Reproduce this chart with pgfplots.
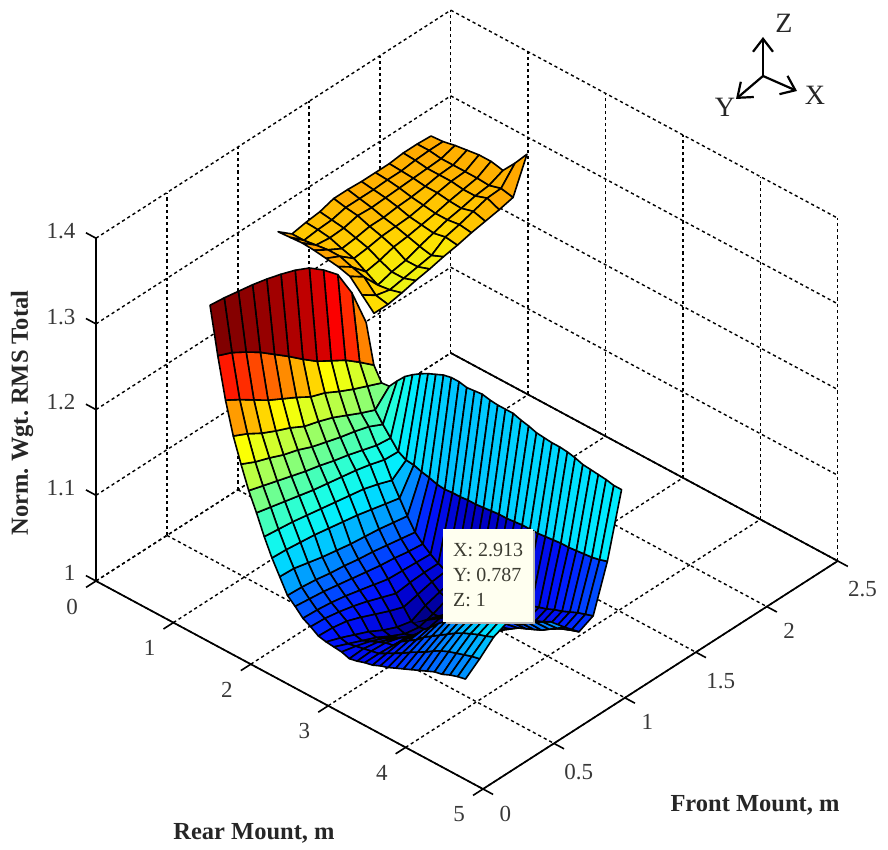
\documentclass[border=0pt]{standalone}
\usepackage{fontspec}
\setmainfont{Liberation Serif}
\usepackage{pgfplots}
\pgfplotsset{compat=1.18}
\usetikzlibrary{arrows.meta}
\definecolor{tipbg}{RGB}{255,255,240}
\definecolor{tiptxt}{RGB}{60,60,50}
\pgfplotsset{colormap={myjet}{rgb255=(0,0,128) rgb255=(0,0,200) rgb255=(0,20,255) rgb255=(0,95,255) rgb255=(0,165,255) rgb255=(0,235,255) rgb255=(30,255,225) rgb255=(90,255,165) rgb255=(150,255,105) rgb255=(205,255,50) rgb255=(255,255,0) rgb255=(255,191,0) rgb255=(255,128,0) rgb255=(255,64,0) rgb255=(255,0,0) rgb255=(191,0,0) rgb255=(128,0,0)}}
\pgfplotsset{colormap={upjet}{rgb255=(0,0,128) rgb255=(0,0,200) rgb255=(0,20,255) rgb255=(0,95,255) rgb255=(0,165,255) rgb255=(0,235,255) rgb255=(30,255,225) rgb255=(90,255,165) rgb255=(150,255,105) rgb255=(190,255,65) rgb255=(225,255,30) rgb255=(255,225,0) rgb255=(255,165,0) rgb255=(255,110,0) rgb255=(255,40,0) rgb255=(191,0,0) rgb255=(128,0,0)}}
\begin{document}
\frenchspacing
\begin{tikzpicture}[x=1pt,y=1pt]
\useasboundingbox (0,0) rectangle (888,850);
\begin{axis}[
  at={(96pt,61pt)},anchor=south west,
  x={(77.4pt,-41.6pt)},y={(141.9pt,91.2pt)},z={(0pt,857pt)},
  xmin=0,xmax=5,ymin=0,ymax=2.5,zmin=1,zmax=1.4,
  xtick={0,1,2,3,4,5},ytick={0,0.5,1,1.5,2,2.5},ztick={1,1.1,1.2,1.3,1.4},
  grid=major,
  grid style={black,line width=1.4pt,dash pattern=on 3.2pt off 3pt},
  axis line style={draw=none},
  tick style={draw=none},
  clip=false,
  tick label style={font=\fontsize{23}{23}\selectfont,text=black!78,/pgf/number format/assume math mode=true},
  xticklabel style={xshift=-17pt,yshift=-13pt},
  yticklabel style={xshift=15pt,yshift=-12pt},
  zticklabel style={xshift=-17pt,yshift=8pt},
  colormap name=myjet,point meta min=0.999,point meta max=1.362,
  every axis plot post/.append style={line join=round},
]
\addplot3[black,line width=1.7pt,forget plot] coordinates {(0,0,1)(5,0,1)(5,2.5,1)(0,2.5,1)};
\addplot3[black,line width=1.7pt,forget plot] coordinates {(0,0,1)(0,0,1.4)};
\addplot3[black,line width=1.6pt,forget plot] coordinates {(0,0,1)(0,-0.07,1)};
\addplot3[black,line width=1.6pt,forget plot] coordinates {(1,0,1)(1,-0.07,1)};
\addplot3[black,line width=1.6pt,forget plot] coordinates {(2,0,1)(2,-0.07,1)};
\addplot3[black,line width=1.6pt,forget plot] coordinates {(3,0,1)(3,-0.07,1)};
\addplot3[black,line width=1.6pt,forget plot] coordinates {(4,0,1)(4,-0.07,1)};
\addplot3[black,line width=1.6pt,forget plot] coordinates {(5,0,1)(5,-0.07,1)};
\addplot3[black,line width=1.6pt,forget plot] coordinates {(5,0,1)(5.13,0,1)};
\addplot3[black,line width=1.6pt,forget plot] coordinates {(5,0.5,1)(5.13,0.5,1)};
\addplot3[black,line width=1.6pt,forget plot] coordinates {(5,1,1)(5.13,1,1)};
\addplot3[black,line width=1.6pt,forget plot] coordinates {(5,1.5,1)(5.13,1.5,1)};
\addplot3[black,line width=1.6pt,forget plot] coordinates {(5,2,1)(5.13,2,1)};
\addplot3[black,line width=1.6pt,forget plot] coordinates {(5,2.5,1)(5.13,2.5,1)};
\addplot3[black,line width=1.6pt,forget plot] coordinates {(0,0,1)(-0.13,0,1)};
\addplot3[black,line width=1.6pt,forget plot] coordinates {(0,0,1.1)(-0.13,0,1.1)};
\addplot3[black,line width=1.6pt,forget plot] coordinates {(0,0,1.2)(-0.13,0,1.2)};
\addplot3[black,line width=1.6pt,forget plot] coordinates {(0,0,1.3)(-0.13,0,1.3)};
\addplot3[black,line width=1.6pt,forget plot] coordinates {(0,0,1.4)(-0.13,0,1.4)};
% upper sheet
\addplot3[surf,colormap name=upjet,shader=flat corner,draw=black,line width=1.6pt,z buffer=sort,mesh/ordering=y varies,mesh/rows=12,mesh/cols=9] coordinates {
(0,1.283,1.271)(0,1.381,1.258)(0,1.479,1.261)(0,1.577,1.263)(0,1.675,1.268)(0,1.773,1.268)(0,1.871,1.267)(0,1.969,1.267)(0,2.067,1.267)(0,2.165,1.269)(0,2.263,1.269)(0,2.361,1.268)
(0.155,1.283,1.272)(0.155,1.381,1.258)(0.155,1.479,1.260)(0.155,1.577,1.261)(0.155,1.675,1.265)(0.155,1.773,1.265)(0.155,1.871,1.265)(0.155,1.969,1.266)(0.155,2.067,1.266)(0.155,2.165,1.268)(0.155,2.263,1.269)(0.155,2.361,1.269)
(0.31,1.283,1.273)(0.31,1.381,1.260)(0.31,1.479,1.258)(0.31,1.577,1.259)(0.31,1.675,1.263)(0.31,1.773,1.262)(0.31,1.871,1.263)(0.31,1.969,1.264)(0.31,2.067,1.265)(0.31,2.165,1.266)(0.31,2.263,1.267)(0.31,2.361,1.272)
(0.465,1.283,1.272)(0.465,1.381,1.262)(0.465,1.479,1.253)(0.465,1.577,1.255)(0.465,1.675,1.258)(0.465,1.773,1.258)(0.465,1.871,1.260)(0.465,1.969,1.261)(0.465,2.067,1.263)(0.465,2.165,1.266)(0.465,2.263,1.267)(0.465,2.361,1.274)
(0.62,1.283,1.270)(0.62,1.381,1.262)(0.62,1.479,1.249)(0.62,1.577,1.251)(0.62,1.675,1.254)(0.62,1.773,1.255)(0.62,1.871,1.256)(0.62,1.969,1.259)(0.62,2.067,1.263)(0.62,2.165,1.266)(0.62,2.263,1.267)(0.62,2.361,1.276)
(0.775,1.283,1.268)(0.775,1.381,1.257)(0.775,1.479,1.241)(0.775,1.577,1.244)(0.775,1.675,1.249)(0.775,1.773,1.251)(0.775,1.871,1.254)(0.775,1.969,1.257)(0.775,2.067,1.261)(0.775,2.165,1.264)(0.775,2.263,1.267)(0.775,2.361,1.276)
(0.93,1.283,1.264)(0.93,1.381,1.253)(0.93,1.479,1.233)(0.93,1.577,1.238)(0.93,1.675,1.241)(0.93,1.773,1.247)(0.93,1.871,1.252)(0.93,1.969,1.257)(0.93,2.067,1.260)(0.93,2.165,1.264)(0.93,2.263,1.266)(0.93,2.361,1.273)
(1.085,1.283,1.250)(1.085,1.381,1.239)(1.085,1.479,1.235)(1.085,1.577,1.238)(1.085,1.675,1.241)(1.085,1.773,1.244)(1.085,1.871,1.255)(1.085,1.969,1.259)(1.085,2.067,1.264)(1.085,2.165,1.269)(1.085,2.263,1.270)(1.085,2.361,1.289)
(1.24,1.283,1.236)(1.24,1.381,1.236)(1.24,1.479,1.239)(1.24,1.577,1.243)(1.24,1.675,1.246)(1.24,1.773,1.250)(1.24,1.871,1.253)(1.24,1.969,1.257)(1.24,2.067,1.260)(1.24,2.165,1.263)(1.24,2.263,1.267)(1.24,2.361,1.307)
};
% main sheet
\addplot3[surf,shader=flat corner,draw=black,line width=1.6pt,z buffer=sort,mesh/ordering=y varies,mesh/rows=12,mesh/cols=34] coordinates {
(1.18,0.16,1.362)(1.18,0.26,1.360)(1.18,0.36,1.357)(1.18,0.46,1.354)(1.18,0.56,1.350)(1.18,0.66,1.345)(1.18,0.76,1.339)(1.18,0.86,1.331)(1.18,0.96,1.318)(1.18,1.06,1.302)(1.18,1.16,1.270)(1.18,1.26,1.225)
(1.28,0.16,1.308)(1.28,0.26,1.301)(1.28,0.36,1.291)(1.28,0.46,1.280)(1.28,0.56,1.267)(1.28,0.66,1.254)(1.28,0.76,1.240)(1.28,0.86,1.227)(1.28,0.96,1.217)(1.28,1.06,1.207)(1.28,1.16,1.194)(1.28,1.26,1.180)
(1.38,0.16,1.261)(1.38,0.26,1.251)(1.38,0.36,1.240)(1.38,0.46,1.229)(1.38,0.56,1.220)(1.38,0.66,1.211)(1.38,0.76,1.201)(1.38,0.86,1.195)(1.38,0.96,1.186)(1.38,1.06,1.178)(1.38,1.16,1.171)(1.38,1.26,1.164)
(1.48,0.16,1.224)(1.48,0.26,1.216)(1.48,0.36,1.206)(1.48,0.46,1.198)(1.48,0.56,1.191)(1.48,0.66,1.182)(1.48,0.76,1.177)(1.48,0.86,1.171)(1.48,0.96,1.163)(1.48,1.06,1.155)(1.48,1.16,1.148)(1.48,1.26,1.165)
(1.58,0.16,1.196)(1.58,0.26,1.188)(1.58,0.36,1.182)(1.58,0.46,1.175)(1.58,0.56,1.170)(1.58,0.66,1.163)(1.58,0.76,1.158)(1.58,0.86,1.153)(1.58,0.96,1.149)(1.58,1.06,1.144)(1.58,1.16,1.136)(1.58,1.26,1.176)
(1.68,0.16,1.170)(1.68,0.26,1.165)(1.68,0.36,1.160)(1.68,0.46,1.155)(1.68,0.56,1.150)(1.68,0.66,1.146)(1.68,0.76,1.141)(1.68,0.86,1.137)(1.68,0.96,1.132)(1.68,1.06,1.127)(1.68,1.16,1.125)(1.68,1.26,1.186)
(1.78,0.16,1.149)(1.78,0.26,1.145)(1.78,0.36,1.141)(1.78,0.46,1.137)(1.78,0.56,1.133)(1.78,0.66,1.130)(1.78,0.76,1.127)(1.78,0.86,1.124)(1.78,0.96,1.120)(1.78,1.06,1.115)(1.78,1.16,1.114)(1.78,1.26,1.193)
(1.88,0.16,1.126)(1.88,0.26,1.124)(1.88,0.36,1.122)(1.88,0.46,1.119)(1.88,0.56,1.116)(1.88,0.66,1.113)(1.88,0.76,1.110)(1.88,0.86,1.107)(1.88,0.96,1.102)(1.88,1.06,1.096)(1.88,1.16,1.109)(1.88,1.26,1.199)
(1.98,0.16,1.106)(1.98,0.26,1.105)(1.98,0.36,1.103)(1.98,0.46,1.101)(1.98,0.56,1.098)(1.98,0.66,1.095)(1.98,0.76,1.092)(1.98,0.86,1.088)(1.98,0.96,1.084)(1.98,1.06,1.080)(1.98,1.16,1.108)(1.98,1.26,1.204)
(2.08,0.16,1.089)(2.08,0.26,1.088)(2.08,0.36,1.084)(2.08,0.46,1.080)(2.08,0.56,1.077)(2.08,0.66,1.074)(2.08,0.76,1.072)(2.08,0.86,1.070)(2.08,0.96,1.067)(2.08,1.06,1.064)(2.08,1.16,1.105)(2.08,1.26,1.208)
(2.18,0.16,1.072)(2.18,0.26,1.071)(2.18,0.36,1.069)(2.18,0.46,1.066)(2.18,0.56,1.064)(2.18,0.66,1.061)(2.18,0.76,1.059)(2.18,0.86,1.056)(2.18,0.96,1.053)(2.18,1.06,1.050)(2.18,1.16,1.103)(2.18,1.26,1.212)
(2.28,0.16,1.064)(2.28,0.26,1.062)(2.28,0.36,1.060)(2.28,0.46,1.057)(2.28,0.56,1.054)(2.28,0.66,1.051)(2.28,0.76,1.048)(2.28,0.86,1.046)(2.28,0.96,1.043)(2.28,1.06,1.041)(2.28,1.16,1.100)(2.28,1.26,1.214)
(2.38,0.16,1.055)(2.38,0.26,1.054)(2.38,0.36,1.052)(2.38,0.46,1.049)(2.38,0.56,1.045)(2.38,0.66,1.041)(2.38,0.76,1.037)(2.38,0.86,1.036)(2.38,0.96,1.035)(2.38,1.06,1.034)(2.38,1.16,1.099)(2.38,1.26,1.214)
(2.48,0.16,1.050)(2.48,0.26,1.049)(2.48,0.36,1.046)(2.48,0.46,1.042)(2.48,0.56,1.037)(2.48,0.66,1.031)(2.48,0.76,1.025)(2.48,0.86,1.027)(2.48,0.96,1.028)(2.48,1.06,1.028)(2.48,1.16,1.100)(2.48,1.26,1.212)
(2.58,0.16,1.044)(2.58,0.26,1.043)(2.58,0.36,1.040)(2.58,0.46,1.034)(2.58,0.56,1.027)(2.58,0.66,1.020)(2.58,0.76,1.014)(2.58,0.86,1.018)(2.58,0.96,1.022)(2.58,1.06,1.024)(2.58,1.16,1.100)(2.58,1.26,1.213)
(2.68,0.16,1.042)(2.68,0.26,1.036)(2.68,0.36,1.029)(2.68,0.46,1.022)(2.68,0.56,1.013)(2.68,0.66,1.006)(2.68,0.76,1.002)(2.68,0.86,1.010)(2.68,0.96,1.015)(2.68,1.06,1.020)(2.68,1.16,1.101)(2.68,1.26,1.214)
(2.78,0.16,1.041)(2.78,0.26,1.034)(2.78,0.36,1.027)(2.78,0.46,1.020)(2.78,0.56,1.011)(2.78,0.66,1.003)(2.78,0.76,1.000)(2.78,0.86,1.005)(2.78,0.96,1.012)(2.78,1.06,1.020)(2.78,1.16,1.101)(2.78,1.26,1.212)
(2.88,0.16,1.040)(2.88,0.26,1.036)(2.88,0.36,1.031)(2.88,0.46,1.024)(2.88,0.56,1.014)(2.88,0.66,1.006)(2.88,0.76,1.002)(2.88,0.86,1.006)(2.88,0.96,1.012)(2.88,1.06,1.020)(2.88,1.16,1.102)(2.88,1.26,1.211)
(2.98,0.16,1.037)(2.98,0.26,1.038)(2.98,0.36,1.035)(2.98,0.46,1.028)(2.98,0.56,1.018)(2.98,0.66,1.010)(2.98,0.76,1.004)(2.98,0.86,1.008)(2.98,0.96,1.013)(2.98,1.06,1.022)(2.98,1.16,1.103)(2.98,1.26,1.211)
(3.08,0.16,1.039)(3.08,0.26,1.040)(3.08,0.36,1.039)(3.08,0.46,1.034)(3.08,0.56,1.024)(3.08,0.66,1.014)(3.08,0.76,1.006)(3.08,0.86,1.010)(3.08,0.96,1.014)(3.08,1.06,1.023)(3.08,1.16,1.104)(3.08,1.26,1.211)
(3.18,0.16,1.042)(3.18,0.26,1.042)(3.18,0.36,1.041)(3.18,0.46,1.040)(3.18,0.56,1.030)(3.18,0.66,1.018)(3.18,0.76,1.008)(3.18,0.86,1.012)(3.18,0.96,1.015)(3.18,1.06,1.025)(3.18,1.16,1.104)(3.18,1.26,1.208)
(3.28,0.16,1.044)(3.28,0.26,1.047)(3.28,0.36,1.050)(3.28,0.46,1.047)(3.28,0.56,1.036)(3.28,0.66,1.023)(3.28,0.76,1.011)(3.28,0.86,1.013)(3.28,0.96,1.018)(3.28,1.06,1.027)(3.28,1.16,1.105)(3.28,1.26,1.206)
(3.38,0.16,1.048)(3.38,0.26,1.052)(3.38,0.36,1.056)(3.38,0.46,1.058)(3.38,0.56,1.044)(3.38,0.66,1.029)(3.38,0.76,1.014)(3.38,0.86,1.015)(3.38,0.96,1.021)(3.38,1.06,1.029)(3.38,1.16,1.106)(3.38,1.26,1.203)
(3.48,0.16,1.051)(3.48,0.26,1.057)(3.48,0.36,1.062)(3.48,0.46,1.066)(3.48,0.56,1.054)(3.48,0.66,1.038)(3.48,0.76,1.020)(3.48,0.86,1.018)(3.48,0.96,1.024)(3.48,1.06,1.032)(3.48,1.16,1.106)(3.48,1.26,1.202)
(3.58,0.16,1.055)(3.58,0.26,1.063)(3.58,0.36,1.070)(3.58,0.46,1.075)(3.58,0.56,1.064)(3.58,0.66,1.048)(3.58,0.76,1.030)(3.58,0.86,1.024)(3.58,0.96,1.027)(3.58,1.06,1.034)(3.58,1.16,1.106)(3.58,1.26,1.201)
(3.68,0.16,1.059)(3.68,0.26,1.068)(3.68,0.36,1.076)(3.68,0.46,1.083)(3.68,0.56,1.074)(3.68,0.66,1.058)(3.68,0.76,1.040)(3.68,0.86,1.030)(3.68,0.96,1.030)(3.68,1.06,1.037)(3.68,1.16,1.107)(3.68,1.26,1.201)
(3.78,0.16,1.063)(3.78,0.26,1.073)(3.78,0.36,1.082)(3.78,0.46,1.090)(3.78,0.56,1.082)(3.78,0.66,1.068)(3.78,0.76,1.050)(3.78,0.86,1.036)(3.78,0.96,1.033)(3.78,1.06,1.040)(3.78,1.16,1.108)(3.78,1.26,1.200)
(3.88,0.16,1.067)(3.88,0.26,1.079)(3.88,0.36,1.088)(3.88,0.46,1.095)(3.88,0.56,1.088)(3.88,0.66,1.076)(3.88,0.76,1.058)(3.88,0.86,1.042)(3.88,0.96,1.036)(3.88,1.06,1.043)(3.88,1.16,1.109)(3.88,1.26,1.198)
(3.98,0.16,1.071)(3.98,0.26,1.084)(3.98,0.36,1.094)(3.98,0.46,1.100)(3.98,0.56,1.093)(3.98,0.66,1.082)(3.98,0.76,1.064)(3.98,0.86,1.046)(3.98,0.96,1.040)(3.98,1.06,1.047)(3.98,1.16,1.109)(3.98,1.26,1.195)
(4.08,0.16,1.075)(4.08,0.26,1.088)(4.08,0.36,1.099)(4.08,0.46,1.105)(4.08,0.56,1.097)(4.08,0.66,1.087)(4.08,0.76,1.069)(4.08,0.86,1.050)(4.08,0.96,1.043)(4.08,1.06,1.050)(4.08,1.16,1.110)(4.08,1.26,1.194)
(4.18,0.16,1.077)(4.18,0.26,1.091)(4.18,0.36,1.103)(4.18,0.46,1.110)(4.18,0.56,1.100)(4.18,0.66,1.091)(4.18,0.76,1.074)(4.18,0.86,1.054)(4.18,0.96,1.047)(4.18,1.06,1.054)(4.18,1.16,1.111)(4.18,1.26,1.193)
(4.28,0.16,1.081)(4.28,0.26,1.094)(4.28,0.36,1.107)(4.28,0.46,1.114)(4.28,0.56,1.103)(4.28,0.66,1.094)(4.28,0.76,1.079)(4.28,0.86,1.060)(4.28,0.96,1.050)(4.28,1.06,1.058)(4.28,1.16,1.112)(4.28,1.26,1.192)
(4.38,0.16,1.084)(4.38,0.26,1.097)(4.38,0.36,1.110)(4.38,0.46,1.118)(4.38,0.56,1.105)(4.38,0.66,1.097)(4.38,0.76,1.084)(4.38,0.86,1.066)(4.38,0.96,1.053)(4.38,1.06,1.061)(4.38,1.16,1.114)(4.38,1.26,1.190)
(4.48,0.16,1.086)(4.48,0.26,1.099)(4.48,0.36,1.114)(4.48,0.46,1.121)(4.48,0.56,1.107)(4.48,0.66,1.100)(4.48,0.76,1.089)(4.48,0.86,1.072)(4.48,0.96,1.056)(4.48,1.06,1.064)(4.48,1.16,1.117)(4.48,1.26,1.190)
};
\end{axis}
% tooltip pointer and box
\fill[black] (453,239) -- (413,227) -- (447,232) -- cycle;
\fill[black!30] (446,226) rectangle (535,319);
\fill[tipbg] (443,228) rectangle (533,321);
\node[anchor=west,text=tiptxt,font=\fontsize{20}{20}\selectfont,align=left,inner sep=0pt] at (453,275) {X: 2.913\\[5pt]Y: 0.787\\[5pt]Z: 1};
% axis titles
\node[font=\bfseries\fontsize{24.5}{25}\selectfont,text=black!85] at (254,17) {Rear Mount, m};
\node[font=\bfseries\fontsize{24.5}{25}\selectfont,text=black!85] at (755,45) {Front Mount, m};
\node[font=\bfseries\fontsize{24.5}{25}\selectfont,text=black!85,rotate=90] at (22,437) {Norm. Wgt. RMS Total};
% orientation triad
\draw[black,line width=2.2pt,-{Straight Barb[length=13pt,width=20pt]}] (763,774) -- (763,813);
\draw[black,line width=2.2pt,-{Straight Barb[length=13pt,width=20pt]}] (763,774) -- (797,759);
\draw[black,line width=2.2pt,-{Straight Barb[length=13pt,width=20pt]}] (763,774) -- (736,751);
\node[font=\fontsize{28}{28}\selectfont,text=black!85] at (784,827) {Z};
\node[font=\fontsize{28}{28}\selectfont,text=black!85] at (815,755) {X};
\node[font=\fontsize{28}{28}\selectfont,text=black!85] at (725,743) {Y};
\end{tikzpicture}
\end{document}
